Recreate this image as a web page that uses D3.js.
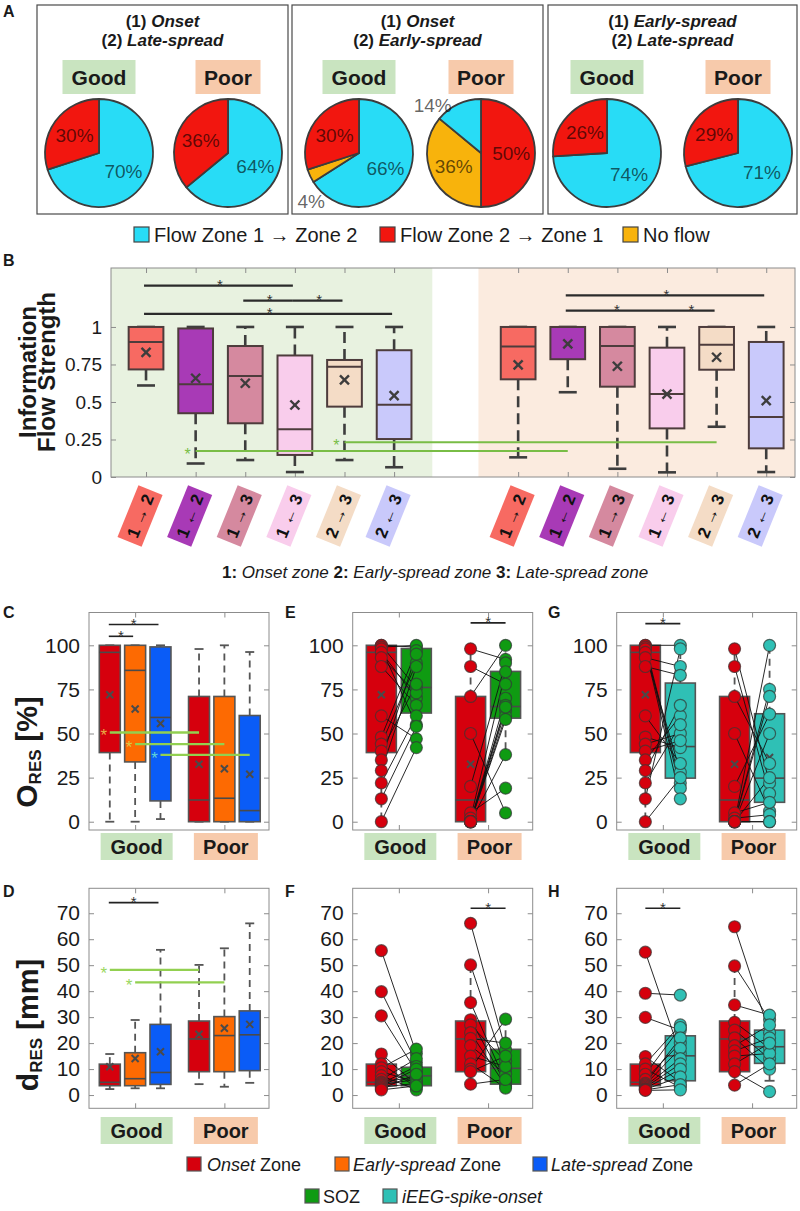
<!DOCTYPE html>
<html><head><meta charset="utf-8">
<script src="https://cdn.jsdelivr.net/npm/d3@7/dist/d3.min.js"></script>
<style>html,body{margin:0;padding:0;background:#fff}svg{display:block;font-family:"Liberation Sans",Arial,Helvetica,sans-serif}</style>
</head><body><svg id="fig" width="800" height="1211"></svg>
<script>
// ================= DATA =================
// Panel A : pies (percent)
const pieBoxZone1 = ["Onset", "Onset", "Early-spread"];
const pieBoxZone2 = ["Late-spread", "Early-spread", "Late-spread"];
const flowCategories = ["Flow Zone 1 \u2192 Zone 2", "Flow Zone 2 \u2192 Zone 1", "No flow"];
const pieGoodPct = [[70, 30, 0], [66, 30, 4], [74, 26, 0]];
const piePoorPct = [[64, 36, 0], [14, 50, 36], [71, 29, 0]];
const pieGoodOrder = [[0, 2, 1], [0, 2, 1], [0, 2, 1]];   // clockwise from 12 o'clock
const piePoorOrder = [[0, 2, 1], [1, 2, 0], [0, 2, 1]];
const outcomes = ["Good", "Poor"];

// Panel B : information flow strength  [low, q1, median, q3, high, mean]
const flowLabels = ["1 \u2192 2", "1 \u2190 2", "1 \u2192 3", "1 \u2190 3", "2 \u2192 3", "2 \u2190 3"];
const flowGoodStats = [
  [0.61, 0.717, 0.90, 1.00, 1, 0.83],
  [0.09, 0.425, 0.618, 0.99, 1, 0.658],
  [0.113, 0.358, 0.673, 0.873, 1, 0.625],
  [0.033, 0.147, 0.318, 0.81, 1, 0.48],
  [0.113, 0.469, 0.735, 0.78, 1, 0.647],
  [0.065, 0.253, 0.482, 0.845, 1, 0.542]];
const flowPoorStats = [
  [0.131, 0.651, 0.869, 1.00, 1, 0.747],
  [0.565, 0.785, 1.00, 1.00, 1, 0.887],
  [0.055, 0.602, 0.873, 1.00, 1, 0.738],
  [0.031, 0.324, 0.553, 0.862, 1, 0.553],
  [0.335, 0.715, 0.882, 1.00, 1, 0.798],
  [0.033, 0.191, 0.40, 0.90, 1, 0.509]];
const flowGoodSig = [[0, 3, 1.275], [2, 3, 1.175], [3, 4, 1.175], [0, 5, 1.087]];
const flowPoorSig = [[1, 5, 1.21], [1, 3, 1.109], [3, 4, 1.109]];
const flowGoodVsPoor = [[1, 0.173], [4, 0.231]];
const flowYTicks = [0, 0.25, 0.5, 0.75, 1];
const zoneKeyNum = ["1:", "2:", "3:"];
const zoneKeyName = ["Onset zone", "Early-spread zone", "Late-spread zone"];

// Panels C / D : [low, q1, median, q3, high, mean] per zone
const zoneNames = ["Onset", "Early-spread", "Late-spread"];
const oresTicks = [0, 25, 50, 75, 100];
const dresTicks = [0, 10, 20, 30, 40, 50, 60, 70];
const oresGoodStats = [[0, 39.2, 96, 100, 100, 72], [0, 33.9, 85.8, 100, 100, 63.9], [1.5, 11.8, 59.1, 99.1, 100, 55.7]];
const oresPoorStats = [[0, 0, 12.3, 71, 97.9, 32.6], [0, 0, 13.3, 71, 100, 30], [0, 0, 6.3, 60.2, 96.2, 26.9]];
const dresGoodStats = [[2.3, 3.6, 4.9, 11.9, 15.8, 10.9], [2.6, 3.6, 6.3, 16.3, 28.9, 14.1], [2.6, 4.1, 8.7, 27.2, 55.9, 16.7]];
const dresPoorStats = [[4.2, 9.0, 21.6, 28.5, 50.1, 23.4], [3.2, 9.0, 22.9, 30.2, 56.5, 25.7], [4.7, 9.4, 23.2, 32.4, 66.1, 27.2]];
const oresSig = [[0, 1, 105.1], [0, 2, 111.8]];
const oresGoodVsPoor = [[0, 50.6], [1, 44.0], [2, 37.9]];
const dresSig = [[0, 2, 74.1]];
const dresGoodVsPoor = [[0, 48.2], [1, 43.4]];

// Panels E-H : comparison boxes [low, q1, median, q3, high, mean]
const sozOresStats = [[42.4, 61.6, 76.1, 98.2, 100, null], [38.3, 58.7, 65.3, 85.2, 100, null]];
const spikeOresStats = [[12.5, 24.7, 42.6, 78.6, 100, null], [0, 11, 24.7, 61.2, 100, 36.4]];
const sozDresStats = [[1.9, 3.6, 7.4, 10.7, 17.7, null], [2.7, 4.2, 10.3, 17.6, 29.2, null]];
const spikeDresStats = [[1.9, 5.5, 15.1, 22.8, 28, null], [5.5, 12.2, 18.6, 25, 30.8, null]];
// paired patients [onset value, comparison value]
const eGoodPairs = [[100, 99], [100, 76], [99, 100], [98, 55], [96, 70], [93, 73], [88, 66], [60, 47], [48, 97], [44, 90], [40, 78], [35, 95], [29, 88], [22, 60], [13, 54], [0, 42]];
const ePoorPairs = [[98, 92], [88, 78], [71, 100], [50, 5], [20, 90], [5, 19], [2, 85], [0, 70], [0, 66], [0, 63], [0, 60], [0, 58], [0, 38], [0, 65]];
const gGoodPairs = [[100, 100], [100, 22], [99, 19], [98, 13], [96, 28], [93, 88], [88, 83], [60, 33], [48, 42], [44, 50], [40, 46], [35, 60], [29, 66], [22, 55], [13, 98], [0, 25]];
const gPoorPairs = [[98, 22], [88, 16], [71, 33], [50, 6], [20, 61], [5, 11], [2, 4], [0, 100], [0, 75], [0, 71], [0, 50], [0, 25], [0, 0], [0, 0]];
const fGoodPairs = [[55.6, 16], [39.8, 12.5], [30.5, 9], [15.8, 4], [12, 3], [10.5, 17.7], [9, 5], [7.5, 2], [6, 14], [5, 7], [4.5, 11], [4, 6], [3.5, 10], [3, 4.5], [2.5, 8], [2, 3.5]];
const fPoorPairs = [[66.1, 17.5], [50.1, 10], [35.6, 5], [29, 4.5], [27, 13], [24, 3.5], [21.8, 20], [19, 8], [15, 11], [12, 2.7], [10, 29.2], [9, 15], [4.2, 6]];
const hGoodPairs = [[55, 16], [39.2, 38.5], [29.9, 25], [14.8, 5], [12, 27], [10, 3], [8, 26], [6, 20], [4.5, 22], [4, 18], [3.5, 14], [3, 12], [2.5, 10], [2.2, 7], [2, 4], [1.8, 2]];
const hPoorPairs = [[64.8, 24], [49.7, 29], [34.7, 30.8], [28, 18], [25, 14], [22, 10], [19, 27], [17, 22], [15, 16], [12, 20], [9, 1.3], [3.8, 12]];
const eSig = [[1, 112.7]], gSig = [[0, 112.3]], fSig = [[1, 71.9]], hSig = [[0, 71.9]];
const legendZones = ["Onset", "Early-spread", "Late-spread"];
const legendCompare = ["SOZ", "iEEG-spike-onset"];

// ================= STYLE =================
const pieColors = ["#28dcf6", "#f2160f", "#f8b30c"];
const outcomeFill = ["#c9e4c0", "#f7caab"];
const flowColors = ["#f76a62", "#a83ab6", "#d5899f", "#f9cdec", "#f4dcc6", "#c9c9fb"];
const zoneColors = ["#d6000d", "#fd6a02", "#0a5cf7"];
const sozColor = "#0f9b12", spikeColor = "#2fc0b5";
const TXT = "#1a1a1a", FRAME = "#8c8c8c";

const svg = d3.select("#fig");
function txt(g, x, y, s, size, o = {}) {
  const t = g.append("text").attr("x", x).attr("y", y).attr("font-size", size).attr("fill", o.fill || TXT).text(s);
  if (o.anchor) t.attr("text-anchor", o.anchor);
  if (o.weight) t.attr("font-weight", o.weight);
  if (o.style) t.attr("font-style", o.style);
  return t;
}
function line(g, x1, y1, x2, y2, stroke, w, dash) {
  const l = g.append("line").attr("x1", x1).attr("y1", y1).attr("x2", x2).attr("y2", y2).attr("stroke", stroke).attr("stroke-width", w);
  if (dash) l.attr("stroke-dasharray", dash);
  return l;
}
function cross(g, x, y, h, stroke, w) {
  line(g, x - h, y - h, x + h, y + h, stroke, w); line(g, x - h, y + h, x + h, y - h, stroke, w);
}
function star(g, x, y, size, fill) { // y = bottom of the glyph
  return txt(g, x, y + size * 0.42, "*", size, { anchor: "middle", fill: fill });
}

// panel letters
[["A", 3, 17], ["B", 3, 266], ["C", 3, 618], ["D", 3, 897], ["E", 285, 618], ["F", 285, 897], ["G", 548, 618], ["H", 548, 897]]
  .forEach(([l, x, y]) => txt(svg, x, y, l, 16, { weight: "bold" }));

// ================= PANEL A =================
(function () {
  const boxX = [37, 292, 548], boxW = [251, 251, 249];
  const pieCX = [[99, 228], [359, 481], [607, 738]];
  const R = 54, CY = 153;
  const arc = d3.arc().innerRadius(0).outerRadius(R);
  const pieGen = d3.pie().sort(null).value(d => d.v);
  const g = svg.append("g");
  for (let b = 0; b < 3; b++) {
    g.append("rect").attr("x", boxX[b]).attr("y", 5).attr("width", boxW[b]).attr("height", 209)
      .attr("fill", "none").attr("stroke", "#4a4a4a").attr("stroke-width", 1.2);
    const cx = boxX[b] + boxW[b] / 2;
    const t1 = txt(g, cx, 27, "(1) ", 17, { anchor: "middle", weight: "bold" });
    t1.append("tspan").attr("font-style", "italic").text(pieBoxZone1[b]);
    const t2 = txt(g, cx, 46, "(2) ", 17, { anchor: "middle", weight: "bold" });
    t2.append("tspan").attr("font-style", "italic").text(pieBoxZone2[b]);
    for (let o = 0; o < 2; o++) {
      const vals = o ? piePoorPct[b] : pieGoodPct[b];
      const ord = o ? piePoorOrder[b] : pieGoodOrder[b];
      const px = pieCX[b][o];
      const w = o ? 65 : 73;
      g.append("rect").attr("x", px - w / 2).attr("y", 60).attr("width", w).attr("height", 34).attr("fill", outcomeFill[o]);
      txt(g, px, 85, outcomes[o], 21, { anchor: "middle", weight: "bold" });
      const slices = ord.map(ci => ({ ci, v: vals[ci] })).filter(d => d.v > 0);
      const arcs = pieGen(slices);
      const pg = g.append("g").attr("transform", `translate(${px},${CY})`);
      pg.selectAll("path").data(arcs).join("path").attr("d", arc)
        .attr("fill", d => pieColors[d.data.ci]).attr("stroke", "#3c3c3c").attr("stroke-width", 1.8).attr("stroke-linejoin", "round");
      arcs.forEach(a => {
        let m = (a.startAngle + a.endAngle) / 2;
        const small = a.data.v < 15;
        if (small) m -= 0.35;
        const rr = small ? R * 1.26 : R * 0.56;
        txt(pg, rr * Math.sin(m), -rr * Math.cos(m) + 7, a.data.v + "%", 19, { anchor: "middle", fill: "rgba(0,0,0,0.62)" });
      });
    }
  }
  const sqX = [134, 380, 623], tX = [154, 400, 643];
  flowCategories.forEach((c, i) => {
    g.append("rect").attr("x", sqX[i]).attr("y", 227).attr("width", 15).attr("height", 15)
      .attr("fill", pieColors[i]).attr("stroke", "#444").attr("stroke-width", 1.2);
    txt(g, tX[i], 242, c, 20);
  });
})();

// ================= PANEL B =================
(function () {
  const L = 111, Rr = 795, T = 268, B = 477;
  const xB = d3.scaleLinear().domain([0.294, 14.08]).range([L, Rr]);
  const yB = d3.scaleLinear().domain([0, 1.393]).range([B, T]);
  const goodPos = flowLabels.map((d, i) => i + 1);
  const poorPos = flowLabels.map((d, i) => i + 8.5);
  const g = svg.append("g");
  g.append("rect").attr("x", L).attr("y", T).attr("width", xB(6.77) - L).attr("height", B - T).attr("fill", "#e8f2e0");
  g.append("rect").attr("x", xB(7.7)).attr("y", T).attr("width", Rr - xB(7.7)).attr("height", B - T).attr("fill", "#fbebdf");
  const ax = (sel) => sel.call(s => s.select(".domain").remove()).call(s => s.selectAll("line").attr("stroke", FRAME));
  g.append("g").attr("transform", `translate(${L},0)`)
    .call(d3.axisLeft(yB).tickValues(flowYTicks).tickFormat(d => String(d)).tickSizeInner(-5).tickSizeOuter(0).tickPadding(9)).call(ax)
    .selectAll("text").attr("font-size", 19).attr("fill", TXT).attr("font-family", "Liberation Sans, Arial");
  g.append("g").attr("transform", `translate(${Rr},0)`)
    .call(d3.axisRight(yB).tickValues(flowYTicks).tickFormat("").tickSizeInner(-5).tickSizeOuter(0)).call(ax);
  g.append("g").attr("transform", `translate(0,${B})`)
    .call(d3.axisBottom(xB).tickValues(goodPos.concat(poorPos)).tickFormat("").tickSizeInner(-5).tickSizeOuter(0)).call(ax);
  g.append("g").attr("transform", `translate(0,${T})`)
    .call(d3.axisTop(xB).tickValues(goodPos.concat(poorPos)).tickFormat("").tickSizeInner(-5).tickSizeOuter(0)).call(ax);
  g.append("rect").attr("x", L).attr("y", T).attr("width", Rr - L).attr("height", B - T).attr("fill", "none").attr("stroke", FRAME).attr("stroke-width", 1);

  const hw = xB(0.35) - xB(0), cap = 9;
  function drawBox(pos, s, col) {
    const cx = xB(pos);
    const [lo, q1, md, q3, hi, mn] = s;
    if (hi > q3) line(g, cx, yB(q3), cx, yB(hi), "#3d3d3d", 2.6, "11,6");
    if (lo < q1) line(g, cx, yB(q1), cx, yB(lo), "#3d3d3d", 2.6, "11,6");
    line(g, cx - cap, yB(hi), cx + cap, yB(hi), "#3d3d3d", 2.6);
    line(g, cx - cap, yB(lo), cx + cap, yB(lo), "#3d3d3d", 2.6);
    g.append("rect").attr("x", cx - hw).attr("y", yB(q3)).attr("width", 2 * hw).attr("height", yB(q1) - yB(q3))
      .attr("fill", col).attr("stroke", "#4d3c3c").attr("stroke-width", 2);
    line(g, cx - hw, yB(md), cx + hw, yB(md), "#4d3c3c", 2);
    cross(g, cx, yB(mn), 4.5, "#3d3d3d", 2.4);
  }
  flowGoodStats.forEach((s, i) => drawBox(goodPos[i], s, flowColors[i]));
  flowPoorStats.forEach((s, i) => drawBox(poorPos[i], s, flowColors[i]));
  function sig(list, pos) {
    list.forEach(([a, b, v]) => {
      const x1 = xB(pos[a]) - 2, x2 = xB(pos[b]) + 1;
      line(g, x1 + 0, yB(v), x2 - 3, yB(v), "#2b2b2b", 2.2);
      star(g, (x1 + x2) / 2, yB(v) - 2, 15, "#333");
    });
  }
  sig(flowGoodSig, goodPos); sig(flowPoorSig, poorPos);
  flowGoodVsPoor.forEach(([i, v]) => {
    line(g, xB(goodPos[i]), yB(v), xB(poorPos[i]), yB(v), "#79bd46", 2);
    txt(g, xB(goodPos[i]) - 8, yB(v) + 9, "*", 16, { anchor: "middle", fill: "#79bd46" });
  });
  // y title
  txt(g, 0, 0, "Information", 24, { anchor: "middle", weight: "bold" }).attr("transform", "translate(36,372) rotate(-90)");
  txt(g, 0, 0, "Flow Strength", 24, { anchor: "middle", weight: "bold" }).attr("transform", "translate(55,372) rotate(-90)");
  // x tags
  function tag(pos, i) {
    const tg = g.append("g").attr("transform", `translate(${xB(pos) - 6},516) rotate(22)`);
    tg.append("rect").attr("x", -13).attr("y", -28).attr("width", 26).attr("height", 56).attr("fill", flowColors[i]);
    const parts = flowLabels[i].split(" ");
    const t = tg.append("text").attr("transform", "rotate(-90)").attr("text-anchor", "middle").attr("dy", "0.36em")
      .attr("font-size", 17).attr("fill", "#111");
    t.append("tspan").attr("font-weight", "bold").text(parts[0]);
    t.append("tspan").text(" " + parts[1] + " ");
    t.append("tspan").attr("font-weight", "bold").text(parts[2]);
  }
  goodPos.forEach((p, i) => tag(p, i)); poorPos.forEach((p, i) => tag(p, i));
  const kt = txt(g, 222, 578, "", 17);
  zoneKeyNum.forEach((n, i) => {
    kt.append("tspan").attr("font-weight", "bold").text((i ? (i === 1 ? "   " : " ") : "") + n + " ");
    kt.append("tspan").attr("font-style", "italic").text(zoneKeyName[i]);
  });
})();

// ================= generic helpers for C-H =================
function frameAxes(g, xs, ys, ticks, L, Rr, T, B) {
  const ax = (sel) => sel.call(s => s.select(".domain").remove()).call(s => s.selectAll("line").attr("stroke", FRAME));
  g.append("g").attr("transform", `translate(${L},0)`)
    .call(d3.axisLeft(ys).tickValues(ticks).tickFormat(d => String(d)).tickSizeInner(-5).tickSizeOuter(0).tickPadding(9)).call(ax)
    .selectAll("text").attr("font-size", 21).attr("fill", TXT).attr("font-family", "Liberation Sans, Arial");
  g.append("g").attr("transform", `translate(${Rr},0)`)
    .call(d3.axisRight(ys).tickValues(ticks).tickFormat("").tickSizeInner(-5).tickSizeOuter(0)).call(ax);
  g.append("g").attr("transform", `translate(0,${B})`)
    .call(d3.axisBottom(xs).tickValues([1, 2]).tickFormat("").tickSizeInner(-5).tickSizeOuter(0)).call(ax);
  g.append("g").attr("transform", `translate(0,${T})`)
    .call(d3.axisTop(xs).tickValues([1, 2]).tickFormat("").tickSizeInner(-5).tickSizeOuter(0)).call(ax);
  g.append("rect").attr("x", L).attr("y", T).attr("width", Rr - L).attr("height", B - T).attr("fill", "none").attr("stroke", FRAME).attr("stroke-width", 1);
}
function outcomeTags(g, xs, top) {
  outcomes.forEach((o, i) => {
    const w = i ? 64 : 72, cx = xs(i + 1) + 1.5;
    g.append("rect").attr("x", cx - w / 2).attr("y", top).attr("width", w).attr("height", 27).attr("fill", outcomeFill[i]);
    txt(g, cx, top + 21, o, 20, { anchor: "middle", weight: "bold" });
  });
}
function statBox(g, xs, ys, pos, halfU, s, col, cap, drawMean) {
  const cx = xs(pos), hw = xs(pos + halfU) - xs(pos);
  const [lo, q1, md, q3, hi, mn] = s;
  if (hi > q3) line(g, cx, ys(q3), cx, ys(hi), "#555", 1.8, "7,5");
  if (lo < q1) line(g, cx, ys(q1), cx, ys(lo), "#555", 1.8, "7,5");
  line(g, cx - cap, ys(hi), cx + cap, ys(hi), "#555", 1.8);
  line(g, cx - cap, ys(lo), cx + cap, ys(lo), "#555", 1.8);
  g.append("rect").attr("x", cx - hw).attr("y", ys(q3)).attr("width", 2 * hw).attr("height", Math.max(0.5, ys(q1) - ys(q3)))
    .attr("fill", col).attr("stroke", "#555").attr("stroke-width", 1.6);
  line(g, cx - hw, ys(md), cx + hw, ys(md), "#4a4a4a", 1.6);
  if (drawMean && mn != null) cross(g, cx, ys(mn), 3.5, "#4a4a4a", 2);
}
function yTitle(g, x, y, main, sub, tail) {
  const t = g.append("text").attr("transform", `translate(${x},${y}) rotate(-90)`).attr("text-anchor", "middle")
    .attr("font-weight", "bold").attr("fill", TXT);
  t.append("tspan").attr("font-size", 30).text(main);
  t.append("tspan").attr("font-size", 17).attr("dy", 4).text(sub);
  t.append("tspan").attr("font-size", 29).attr("dy", -4).text(tail);
}

// ================= PANELS C & D =================
function zonePanel(L, T, B, dom, ticks, goodStats, poorStats, sigs, gvp, starCols, tagTop) {
  const g = svg.append("g");
  const xs = d3.scaleLinear().domain([0.483, 2.5]).range([L, L + 180]);
  const ys = d3.scaleLinear().domain(dom).range([B, T]);
  frameAxes(g, xs, ys, ticks, L, L + 180, T, B);
  const off = z => (z - 1) * 0.284;
  [goodStats, poorStats].forEach((st, gi) => st.forEach((s, z) => statBox(g, xs, ys, gi + 1 + off(z), 0.1175, s, zoneColors[z], 4.5, true)));
  sigs.forEach(([a, b, v]) => {
    const x1 = xs(1 + off(a)) - 1, x2 = xs(1 + off(b)) - 2;
    line(g, x1, ys(v), x2, ys(v), "#222", 1.6);
    star(g, (x1 + x2) / 2, ys(v) - 2, 15, "#333");
  });
  gvp.forEach(([z, v], k) => {
    line(g, xs(1 + off(z)), ys(v), xs(2 + off(z)), ys(v), "#92d050", 2.4);
    txt(g, xs(1 + off(z)) - 6, ys(v) + 9, "*", 17, { anchor: "middle", fill: starCols[k] });
  });
  outcomeTags(g, xs, tagTop);
}
zonePanel(89, 612.5, 830, [-4.7, 118.6], oresTicks, oresGoodStats, oresPoorStats, oresSig, oresGoodVsPoor, ["#e8ab45", "#d9c84a", "#5fd3d6"], 833);
zonePanel(89, 888.3, 1108.3, [-5.1, 79.6], dresTicks, dresGoodStats, dresPoorStats, dresSig, dresGoodVsPoor, ["#9ad860", "#9ad860"], 1117);
yTitle(svg, 37, 752, "O", "RES", " [%]");
yTitle(svg, 38, 1025, "d", "RES", " [mm]");

// ================= PANELS E-H =================
function pairedPanel(L, T, B, dom, ticks, redStats, cmpStats, goodPairs, poorPairs, cmpCol, sigs, tagTop, redMean) {
  const g = svg.append("g");
  const xs = d3.scaleLinear().domain([0.483, 2.5]).range([L, L + 180]);
  const ys = d3.scaleLinear().domain(dom).range([B, T]);
  frameAxes(g, xs, ys, ticks, L, L + 180, T, B);
  const o = 0.196, hu = 0.168;
  [0, 1].forEach(gi => {
    statBox(g, xs, ys, gi + 1 - o, hu, redStats[gi], zoneColors[0], 5, redMean);
    statBox(g, xs, ys, gi + 1 + o, hu, cmpStats[gi], cmpCol, 5, true);
  });
  [goodPairs, poorPairs].forEach((pairs, gi) => {
    const xr = xs(gi + 1 - o), xc = xs(gi + 1 + o);
    pairs.forEach(([a, b]) => line(g, xr, ys(a), xc, ys(b), "#111", 0.9));
  });
  [goodPairs, poorPairs].forEach((pairs, gi) => {
    const xr = xs(gi + 1 - o), xc = xs(gi + 1 + o);
    g.append("g").selectAll("circle").data(pairs).join("circle").attr("cx", xr).attr("cy", d => ys(d[0])).attr("r", 6)
      .attr("fill", zoneColors[0]).attr("stroke", "rgba(70,50,50,0.75)").attr("stroke-width", 1.2);
    g.append("g").selectAll("circle").data(pairs).join("circle").attr("cx", xc).attr("cy", d => ys(d[1])).attr("r", 6)
      .attr("fill", cmpCol).attr("stroke", "rgba(50,60,55,0.75)").attr("stroke-width", 1.2);
  });
  sigs.forEach(([gi, v]) => {
    const x1 = xs(gi + 1 - o), x2 = xs(gi + 1 + o);
    line(g, x1, ys(v), x2, ys(v), "#222", 1.6);
    star(g, (x1 + x2) / 2, ys(v) - 2, 15, "#333");
  });
  outcomeTags(g, xs, tagTop);
}
pairedPanel(352.7, 612.5, 830, [-4.7, 118.6], oresTicks, [oresGoodStats[0], oresPoorStats[0]], sozOresStats, eGoodPairs, ePoorPairs, sozColor, eSig, 833, true);
pairedPanel(616.7, 612.5, 830, [-4.7, 118.6], oresTicks, [oresGoodStats[0], oresPoorStats[0]], spikeOresStats, gGoodPairs, gPoorPairs, spikeColor, gSig, 833, true);
pairedPanel(352.7, 888.3, 1108.3, [-5.1, 79.6], dresTicks, [dresGoodStats[0], dresPoorStats[0]], sozDresStats, fGoodPairs, fPoorPairs, sozColor, fSig, 1117, false);
pairedPanel(616.7, 888.3, 1108.3, [-5.1, 79.6], dresTicks, [dresGoodStats[0], dresPoorStats[0]], spikeDresStats, hGoodPairs, hPoorPairs, spikeColor, hSig, 1117, false);

// ================= BOTTOM LEGEND =================
(function () {
  const g = svg.append("g");
  const sq = [187, 335, 533], tx = [207, 353, 551];
  legendZones.forEach((z, i) => {
    g.append("rect").attr("x", sq[i]).attr("y", 1157).attr("width", 14).attr("height", 14).attr("fill", zoneColors[i]).attr("stroke", "#555").attr("stroke-width", 1.2);
    const t = txt(g, tx[i], 1171, "", 18);
    t.append("tspan").attr("font-style", "italic").text(z);
    t.append("tspan").text(" Zone");
  });
  const sq2 = [305, 383], tx2 = [323, 402], cols2 = [sozColor, spikeColor];
  legendCompare.forEach((c, i) => {
    g.append("rect").attr("x", sq2[i]).attr("y", 1189).attr("width", 14).attr("height", 14).attr("fill", cols2[i]).attr("stroke", "#555").attr("stroke-width", 1.2);
    txt(g, tx2[i], 1203, c, 18, i ? { style: "italic" } : {});
  });
})();
</script></body></html>
